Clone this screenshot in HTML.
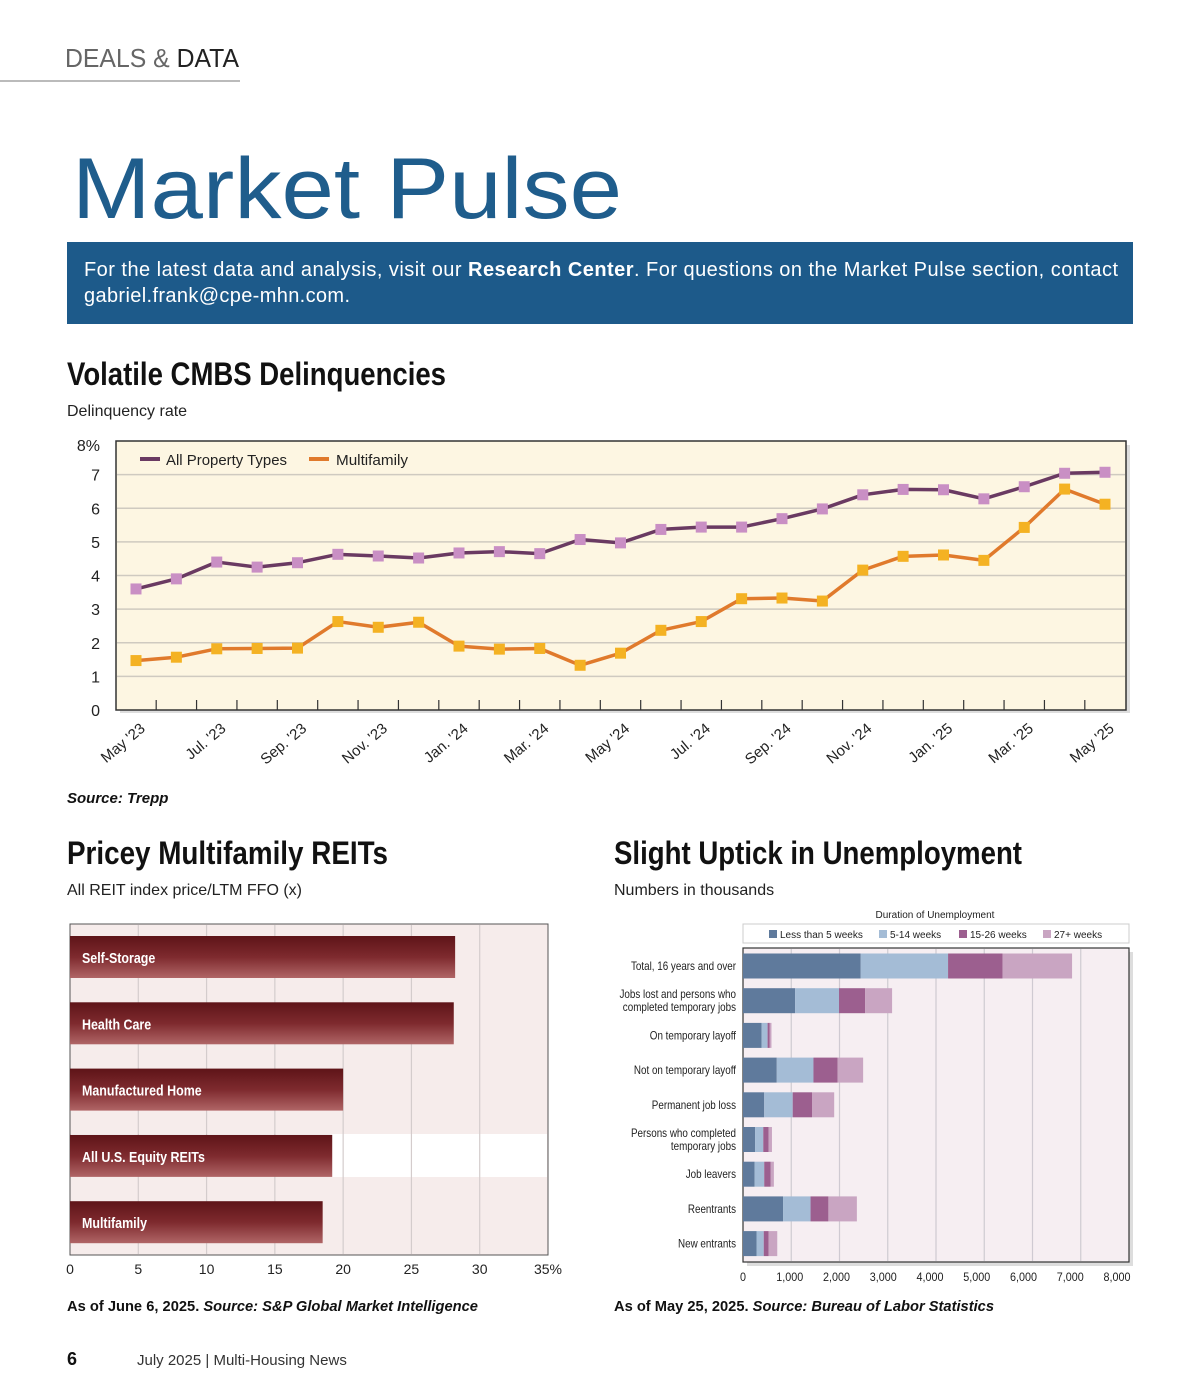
<!DOCTYPE html>
<html><head><meta charset="utf-8"><style>
body{margin:0;width:1200px;height:1400px;background:#fff;overflow:hidden}
svg{display:block;font-family:"Liberation Sans",sans-serif}
</style></head><body>
<svg id="page" width="1200" height="1400" viewBox="0 0 1200 1400">
<defs>
<linearGradient id="bg" x1="0" y1="0" x2="0" y2="1"><stop offset="0" stop-color="#5e1418"/><stop offset="0.5" stop-color="#7e2a2e"/><stop offset="1" stop-color="#b06566"/></linearGradient>
</defs>
<g>
<text x="65" y="67" font-size="26" fill="#666" textLength="174" lengthAdjust="spacingAndGlyphs">DEALS &amp; <tspan fill="#222">DATA</tspan></text>
<rect x="0" y="80" width="240" height="2" fill="#bbb"/>
<text x="72" y="218" font-size="86" fill="#1f5d8c" textLength="550" lengthAdjust="spacingAndGlyphs">Market Pulse</text>
<rect x="67" y="242" width="1066" height="82" fill="#1d5a8a"/>
<text x="84" y="276" font-size="20" fill="#fff" textLength="1034" lengthAdjust="spacing">For the latest data and analysis, visit our <tspan font-weight="bold">Research Center</tspan>. For questions on the Market Pulse section, contact</text>
<text x="84" y="302" font-size="20" fill="#fff" textLength="266">gabriel.frank@cpe-mhn.com.</text>
</g>
<g id="cmbs">
<text x="67" y="385" font-size="32" font-weight="bold" fill="#111" textLength="379" lengthAdjust="spacingAndGlyphs">Volatile CMBS Delinquencies</text>
<text x="67" y="416" font-size="16" fill="#222">Delinquency rate</text>
<rect x="120" y="445" width="1010" height="268" fill="#ddd"/>
<rect x="116" y="441" width="1010" height="269" fill="#fdf6e2" stroke="#333" stroke-width="1.5"/>
<g id="cmbsGrid"></g><g id="cmbsMarks"></g>
<g>
<rect x="140" y="457" width="20" height="4" fill="#6a3a62"/>
<text x="166" y="465" font-size="15" fill="#222" textLength="121" lengthAdjust="spacingAndGlyphs">All Property Types</text>
<rect x="309" y="457" width="20" height="4" fill="#e07a2c"/>
<text x="336" y="465" font-size="15" fill="#222" textLength="72" lengthAdjust="spacingAndGlyphs">Multifamily</text>
</g>
<text x="67" y="803" font-size="15" font-style="italic" font-weight="bold" fill="#111">Source: Trepp</text>
</g>
<g id="reit">
<text x="67" y="864" font-size="32" font-weight="bold" fill="#111" textLength="321" lengthAdjust="spacingAndGlyphs">Pricey Multifamily REITs</text>
<text x="67" y="895" font-size="16" fill="#222">All REIT index price/LTM FFO (x)</text>
<rect x="70" y="924" width="478" height="331" fill="#f6eceb" stroke="#555" stroke-width="1"/>
<g id="reitMarks"></g>
<text x="67" y="1311" font-size="15" fill="#111" font-weight="bold" textLength="411" lengthAdjust="spacingAndGlyphs">As of June 6, 2025. <tspan font-style="italic">Source: S&amp;P Global Market Intelligence</tspan></text>
</g>
<g id="unemp">
<text x="614" y="864" font-size="32" font-weight="bold" fill="#111" textLength="408" lengthAdjust="spacingAndGlyphs">Slight Uptick in Unemployment</text>
<text x="614" y="895" font-size="16" fill="#222">Numbers in thousands</text>
<text x="935" y="918" font-size="10" fill="#222" text-anchor="middle">Duration of Unemployment</text>
<rect x="743" y="924" width="386" height="19" fill="#fff" stroke="#ccc"/>
<rect x="747" y="952" width="386" height="314" fill="#ddd"/>
<rect x="743" y="948" width="386" height="314" fill="#f6eef2" stroke="#333" stroke-width="1.2"/>
<g id="unempMarks"></g>
<text x="614" y="1311" font-size="15" fill="#111" font-weight="bold" textLength="380" lengthAdjust="spacingAndGlyphs">As of May 25, 2025. <tspan font-style="italic">Source: Bureau of Labor Statistics</tspan></text>
</g>
<text x="67" y="1365" font-size="18" font-weight="bold" fill="#111">6</text>
<text x="137" y="1365" font-size="15" fill="#333">July 2025  |  Multi-Housing News</text>
</svg>
<script>
const NS="http://www.w3.org/2000/svg";
function mk(parent,tag,attrs,txt){const e=document.createElementNS(NS,tag);for(const k in attrs)e.setAttribute(k,attrs[k]);if(txt!==undefined)e.textContent=txt;parent.appendChild(e);return e;}
function narrow(el,f){const w=el.getComputedTextLength();el.setAttribute('textLength',(w*f).toFixed(1));el.setAttribute('lengthAdjust','spacingAndGlyphs');}

// ---- CMBS data ----
const cmbsYTicks=[0,1,2,3,4,5,6,7,8];
const cmbsMonthLabels=["May '23","Jul. '23","Sep. '23","Nov. '23","Jan. '24","Mar. '24","May '24","Jul. '24","Sep. '24","Nov. '24","Jan. '25","Mar. '25","May '25"];
const allProperty=[3.6,3.9,4.4,4.25,4.38,4.63,4.58,4.52,4.67,4.71,4.65,5.07,4.97,5.37,5.44,5.44,5.69,5.98,6.40,6.56,6.55,6.28,6.64,7.04,7.07];
const multifamily=[1.47,1.57,1.82,1.83,1.84,2.63,2.46,2.61,1.90,1.81,1.83,1.33,1.69,2.37,2.63,3.31,3.33,3.24,4.16,4.57,4.61,4.45,5.43,6.57,6.12];

const cx=i=>136+i*(1105-136)/(allProperty.length-1);
const cy=v=>710-v*(710-441)/8;
const cg=document.getElementById('cmbsGrid'),cm=document.getElementById('cmbsMarks');
cmbsYTicks.forEach(t=>{
  if(t>0&&t<8){const l=mk(cg,'line',{x1:117,x2:1125,y1:cy(t),y2:cy(t),stroke:'#cfcac0','stroke-width':1.5});
  
  }
  const tx=mk(cg,'text',{x:100,y:cy(t)+(t===8?10:6),'font-size':16,'text-anchor':'end',fill:'#222'},t===8?'8%':String(t));
  
  
});
for(let i=0;i<allProperty.length-1;i++){
  const x=(cx(i)+cx(i+1))/2;
  const tk=mk(cg,'line',{x1:x,x2:x,y1:700,y2:710,stroke:'#333','stroke-width':1.2});
  
  
}
cmbsMonthLabels.forEach((lab,j)=>{
  const x=cx(j*2);
  const t=mk(cg,'text',{x:x+10,y:730,'font-size':15,'text-anchor':'end',fill:'#222',transform:`rotate(-40 ${x+10} 730)`},lab);
  
  
});
function series(vals,line,mark,name){
  const p=mk(cm,'polyline',{points:vals.map((v,i)=>cx(i)+','+cy(v)).join(' '),fill:'none',stroke:line,'stroke-width':3.5,'stroke-linejoin':'round'});
  
  
  vals.forEach((v,i)=>{
    const r=mk(cm,'rect',{x:cx(i)-5.5,y:cy(v)-5.5,width:11,height:11,fill:mark});
    
    
  });
}
series(allProperty,'#6a3a62','#c98fc4','all-property');
series(multifamily,'#e07a2c','#f4b223','multifamily');

// ---- REIT data ----
const reitCategories=["Self-Storage","Health Care","Manufactured Home","All U.S. Equity REITs","Multifamily"];
const reitValues=[28.2,28.1,20.0,19.2,18.5];
const reitTicks=[0,5,10,15,20,25,30,35];
const rx=v=>70+v*(548-70)/35;
const rm=document.getElementById('reitMarks');
const band=mk(rm,'rect',{x:rx(0)+1,y:1134,width:rx(35)-rx(0)-2,height:43,fill:'#fff'});


reitTicks.forEach(t=>{
  if(t>0&&t<35){const l=mk(rm,'line',{x1:rx(t),x2:rx(t),y1:925,y2:1254,stroke:'#d4cccc','stroke-width':1.2});
  
  }
  const tx=mk(rm,'text',{x:rx(t),y:1274,'font-size':14,'text-anchor':'middle',fill:'#222'},t===35?'35%':String(t));
  
  
});
reitCategories.forEach((c,i)=>{
  const yc=957+i*66.3;
  const r=mk(rm,'rect',{x:rx(0),y:yc-21,width:rx(reitValues[i])-rx(0),height:42,fill:'url(#bg)'});
  
  
  const t=mk(rm,'text',{x:82,y:yc+6,'font-size':15,'font-weight':'bold',fill:'#fff'},c);
  
  
  narrow(t,0.83);
});

// ---- Unemployment data ----
const unempCategories=[["Total, 16 years and over"],["Jobs lost and persons who","completed temporary jobs"],["On temporary layoff"],["Not on temporary layoff"],["Permanent job loss"],["Persons who completed","temporary jobs"],["Job leavers"],["Reentrants"],["New entrants"]];
const lessThan5=[2440,1080,385,700,440,250,240,830,280];
const weeks5to14=[1810,910,125,760,590,170,200,570,150];
const weeks15to26=[1130,540,45,500,400,110,130,370,100];
const weeks27plus=[1440,560,35,530,460,70,70,590,180];
const unempTicks=[0,1000,2000,3000,4000,5000,6000,7000,8000];
const seriesNames=["Less than 5 weeks","5-14 weeks","15-26 weeks","27+ weeks"];
const seriesColors=['#5f7a9c','#a4bcd6','#9c5f8f','#c9a5c2'];
const ux=v=>743+v*(1129-743)/8000;
const um=document.getElementById('unempMarks');
unempTicks.forEach(t=>{
  if(t>0&&t<8000){const l=mk(um,'line',{x1:ux(t),x2:ux(t),y1:949,y2:1261,stroke:'#cfcad2','stroke-width':1.2});
  
  }
  const tx=mk(um,'text',{x:ux(t)-t/8000*12,y:1281,'font-size':12,'text-anchor':'middle',fill:'#222'},t===0?'0':t.toLocaleString('en-US'));
  
  
  narrow(tx,0.9);
});
const allS=[lessThan5,weeks5to14,weeks15to26,weeks27plus];
unempCategories.forEach((lab,i)=>{
  const yc=966+i*34.7;let acc=0;
  allS.forEach((s,k)=>{
    const r=mk(um,'rect',{x:ux(acc),y:yc-12.5,width:ux(acc+s[i])-ux(acc),height:25,fill:seriesColors[k]});
    
    
    acc+=s[i];
  });
  lab.forEach((ln,j)=>{
    const t=mk(um,'text',{x:736,y:yc+4+(j-(lab.length-1)/2)*13,'font-size':12,'text-anchor':'end',fill:'#222'},ln);
    
    
    narrow(t,0.82);
  });
});
const lx=[769,879,959,1043];
seriesNames.forEach((n,k)=>{
  const s=mk(um,'rect',{x:lx[k],y:930,width:8,height:8,fill:seriesColors[k]});
  
  
  const t=mk(um,'text',{x:lx[k]+11,y:938,'font-size':10,fill:'#222'},n);
  
  
});
</script>
</body></html>
